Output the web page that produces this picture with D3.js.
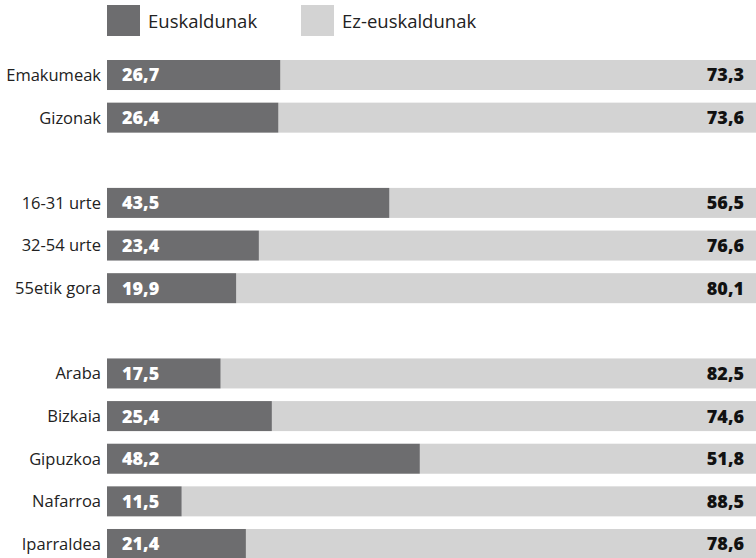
<!DOCTYPE html>
<html>
<head>
<meta charset="utf-8">
<script src="https://cdn.jsdelivr.net/npm/d3@7"></script>
<style>
  body { margin: 0; background: #fff; }
  svg { display: block; font-family: "Open Sans", sans-serif; }
</style>
</head>
<body>
<svg id="chart" width="756" height="558"></svg>
<script>
// rows, with empty spacers between groups
const categories = ['Emakumeak', 'Gizonak', '', '16-31 urte', '32-54 urte', '55etik gora', ' ',
  'Araba', 'Bizkaia', 'Gipuzkoa', 'Nafarroa', 'Iparraldea'];
const euskaldunak = [26.7, 26.4, null, 43.5, 23.4, 19.9, null, 17.5, 25.4, 48.2, 11.5, 21.4];
const ezEuskaldunak = [73.3, 73.6, null, 56.5, 76.6, 80.1, null, 82.5, 74.6, 51.8, 88.5, 78.6];
const seriesNames = ['Euskaldunak', 'Ez-euskaldunak'];

const darkColor = '#6d6d6f';
const lightColor = '#d3d3d3';
const fmt = v => d3.format('.1f')(v).replace('.', ',');

const svg = d3.select('#chart');

const x = d3.scaleLinear().domain([0, 100]).range([107, 756]);
const y = d3.scaleBand()
  .domain(categories)
  .range([60, 559])
  .paddingInner(0.296)
  .paddingOuter(0);

const rows = categories.map((c, i) => ({ cat: c, a: euskaldunak[i], b: ezEuskaldunak[i] }))
  .filter(d => d.a !== null);

// legend
const legend = svg.append('g');
const legendX = [107, 301];
seriesNames.forEach((name, i) => {
  legend.append('rect')
    .attr('x', legendX[i]).attr('y', 5)
    .attr('width', 33).attr('height', 31)
    .attr('fill', i === 0 ? darkColor : lightColor);
  legend.append('text')
    .attr('x', legendX[i] + 41).attr('y', 28)
    .attr('font-size', 18.5)
    .attr('fill', '#222')
    .text(name);
});

const g = svg.append('g');

g.selectAll('.bar-b')
  .data(rows)
  .enter()
  .append('rect')
  .attr('class', 'bar-b')
  .attr('x', d => x(d.a))
  .attr('y', d => y(d.cat))
  .attr('width', d => x(100) - x(d.a))
  .attr('height', y.bandwidth())
  .attr('fill', lightColor);

g.selectAll('.bar-a')
  .data(rows)
  .enter()
  .append('rect')
  .attr('class', 'bar-a')
  .attr('x', x(0))
  .attr('y', d => y(d.cat))
  .attr('width', d => x(d.a) - x(0))
  .attr('height', y.bandwidth())
  .attr('fill', darkColor);

// category labels
g.selectAll('.cat')
  .data(rows)
  .enter()
  .append('text')
  .attr('class', 'cat')
  .attr('x', x(0) - 6)
  .attr('y', d => y(d.cat) + y.bandwidth() / 2)
  .attr('dy', '0.36em')
  .attr('text-anchor', 'end')
  .attr('font-size', 16.5)
  .attr('fill', '#222')
  .text(d => d.cat);

// values
g.selectAll('.val-a')
  .data(rows)
  .enter()
  .append('text')
  .attr('class', 'val-a')
  .attr('x', x(0) + 15)
  .attr('y', d => y(d.cat) + y.bandwidth() / 2)
  .attr('dy', '0.36em')
  .attr('font-size', 18)
  .attr('font-weight', 800)
  .attr('fill', '#fff')
  .text(d => fmt(d.a));

g.selectAll('.val-b')
  .data(rows)
  .enter()
  .append('text')
  .attr('class', 'val-b')
  .attr('x', x(100) - 12)
  .attr('y', d => y(d.cat) + y.bandwidth() / 2)
  .attr('dy', '0.36em')
  .attr('text-anchor', 'end')
  .attr('font-size', 18)
  .attr('font-weight', 800)
  .attr('fill', '#111')
  .text(d => fmt(d.b));
</script>
</body>
</html>
